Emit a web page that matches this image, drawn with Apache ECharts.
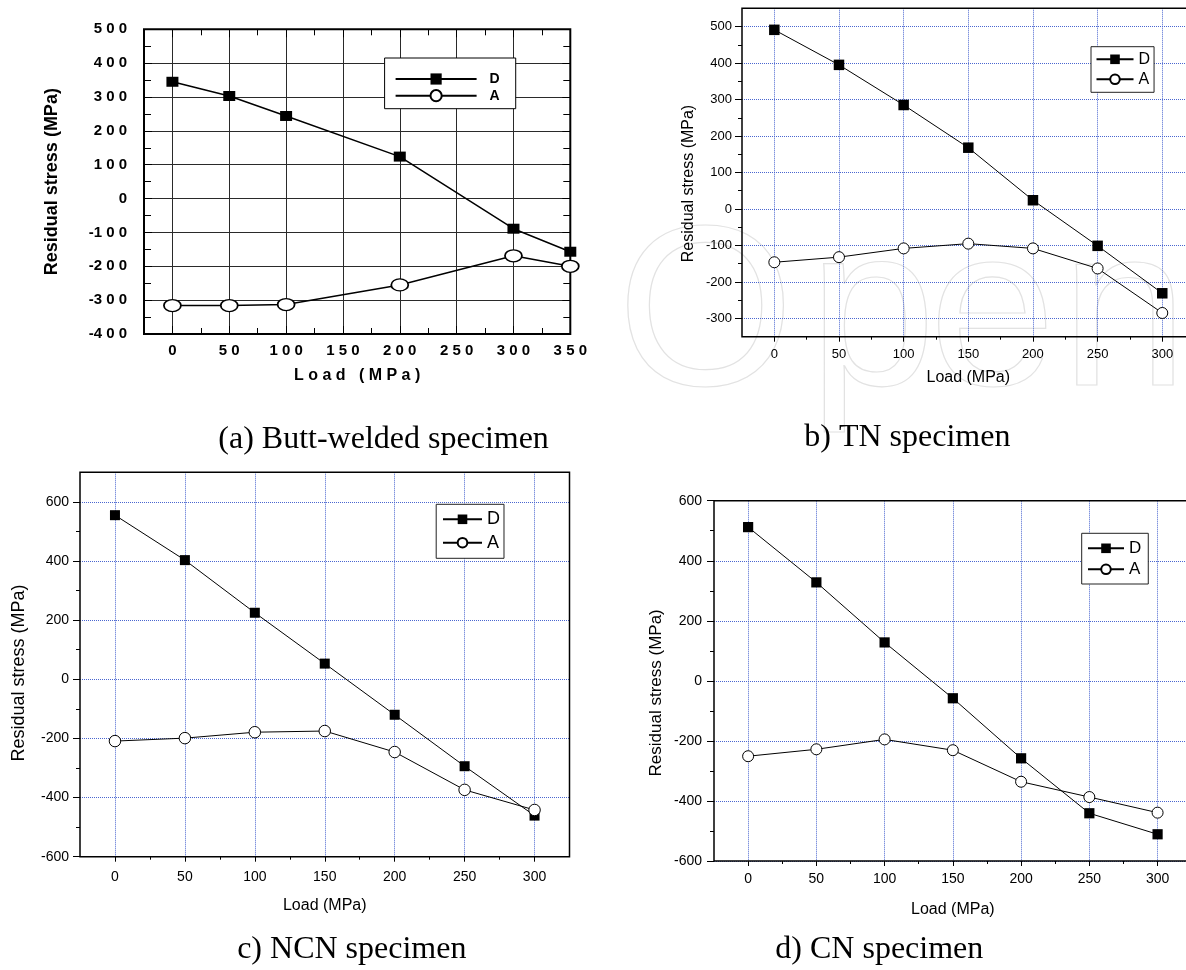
<!DOCTYPE html>
<html>
<head>
<meta charset="utf-8">
<script src="https://cdn.jsdelivr.net/npm/echarts@6/dist/echarts.min.js"></script>
<style>
html,body{margin:0;padding:0;overflow:hidden;background:#fff;width:1186px;height:970px;}
.p{position:absolute;left:0;top:0;width:1210px;height:970px;}
</style>
</head>
<body>
<div id="pa" class="p"></div>
<div id="pb" class="p"></div>
<div id="pc" class="p"></div>
<div id="pd" class="p"></div>
<script>
// ---------- data ----------
const seriesNames = ['D', 'A'];
const axisTitleX = 'Load (MPa)';
const axisTitleY = 'Residual stress (MPa)';
const captions = ['(a) Butt-welded specimen', 'b) TN specimen', 'c) NCN specimen', 'd) CN specimen'];
const watermarkLetters = ['O', 'p', 'e', 'n'];

// (a) Butt-welded specimen
const loadA = [0, 50, 100, 200, 300, 350];
const stressA_D = [345, 303, 244, 124, -89, -157];
const stressA_A = [-316, -316, -313, -255, -169, -200];

// (b)(c)(d) notched specimens share the load steps
const loadBCD = [0, 50, 100, 150, 200, 250, 300];
const stressB_D = [491, 395, 285, 168, 24, -101, -231];
const stressB_A = [-146, -132, -108, -95, -108, -163, -285];
const stressC_D = [555, 403, 225, 53, -120, -294, -461];
const stressC_A = [-209, -199, -179, -175, -246, -374, -442];
const stressD_D = [512, 328, 128, -58, -258, -441, -511];
const stressD_A = [-251, -228, -195, -231, -336, -387, -439];

// tick labels
const ticksAX = [0, 50, 100, 150, 200, 250, 300, 350];
const minorAX = [25, 75, 125, 175, 225, 275, 325];
const ticksX = [0, 50, 100, 150, 200, 250, 300];
const minorX = [25, 75, 125, 175, 225, 275];
const ticksBY = [-300, -200, -100, 0, 100, 200, 300, 400, 500];
const minorBY = [-250, -150, -50, 50, 150, 250, 350, 450];
const ticksCY = [-600, -400, -200, 0, 200, 400, 600];
const minorCY = [-500, -300, -100, 100, 300, 500];

// ---------- helpers ----------
const FF = '"Liberation Sans", Arial, sans-serif';
const SERIF = '"Liberation Serif", "Times New Roman", serif';
const GRID_BLUE = '#4a66d0';

function xy(xs, ys) { return xs.map((x, i) => [x, ys[i]]); }
function spacedNum(v) { return String(v).replace(/(\d)(?=\d)/g, '$1 '); }
function spacedText(s) { return s.split('').join(' '); }

function caption(text, x, y) {
  return {
    type: 'text', x: x, y: y, silent: true,
    style: { text: text, font: '32px ' + SERIF, fill: '#000',
      align: 'center', verticalAlign: 'middle', textAlign: 'center', textVerticalAlign: 'middle' }
  };
}

function watermark() {
  const xs = [617, 809, 929, 1061];
  return watermarkLetters.map((ch, i) => ({
    type: 'text', x: xs[i], y: 322, z: -10, silent: true,
    style: { text: ch, font: '228px ' + FF, fill: 'none', stroke: '#e2e2e2', lineWidth: 1.2,
      align: 'left', verticalAlign: 'middle', textAlign: 'left', textVerticalAlign: 'middle' }
  }));
}

function modernPanel(p) {
  const tickStyle = { color: '#000', width: 1 };
  const dotted = { color: GRID_BLUE, type: [1, 1], width: 1 };
  const xMain = {
    type: 'value', min: -25, max: 325, splitNumber: 7, position: 'bottom',
    name: axisTitleX, nameLocation: 'middle', nameGap: p.xNameGap,
    nameTextStyle: { fontFamily: FF, fontSize: 16, color: '#000' },
    axisLine: { show: false, onZero: false },
    axisTick: { show: true, inside: false, length: 5, customValues: ticksX, lineStyle: tickStyle },
    axisLabel: { show: true, customValues: ticksX, margin: p.xLabelMargin, fontFamily: FF, fontSize: p.labelSize, color: '#000' },
    splitLine: { show: true, lineStyle: dotted }
  };
  const xMinor = {
    type: 'value', min: -25, max: 325, splitNumber: 7, position: 'bottom',
    axisLine: { show: false, onZero: false },
    axisTick: { show: true, inside: false, length: 3, customValues: minorX, lineStyle: tickStyle },
    axisLabel: { show: false }, splitLine: { show: false }
  };
  const yMain = {
    type: 'value', min: p.yMin, max: p.yMax, splitNumber: p.ySplit, position: 'left',
    name: axisTitleY, nameLocation: 'middle', nameGap: p.yNameGap,
    nameTextStyle: { fontFamily: FF, fontSize: p.yNameSize, color: '#000', padding: [0, p.yNameShift * 2, 0, 0] },
    axisLine: { show: false, onZero: false },
    axisTick: { show: true, inside: false, length: 7, customValues: p.yTicks, lineStyle: tickStyle },
    axisLabel: { show: true, customValues: p.yTicks, margin: p.yLabelMargin, fontFamily: FF, fontSize: p.labelSize, color: '#000' },
    splitLine: { show: true, lineStyle: dotted }
  };
  const yMinor = {
    type: 'value', min: p.yMin, max: p.yMax, splitNumber: p.ySplit, position: 'left',
    axisLine: { show: false, onZero: false },
    axisTick: { show: true, inside: false, length: 4, customValues: p.yMinor, lineStyle: tickStyle },
    axisLabel: { show: false }, splitLine: { show: false }
  };
  return {
    animation: false,
    grid: { left: p.left, top: p.top, width: p.width, height: p.height, show: true, z: 1,
      borderColor: '#000', borderWidth: 1.5, backgroundColor: 'transparent',
      containLabel: false, outerBoundsMode: 'none' },
    xAxis: [xMain, xMinor],
    yAxis: [yMain, yMinor],
    legend: Object.assign({
      data: seriesNames, orient: 'vertical', selectedMode: false,
      borderColor: '#222', borderWidth: 1, backgroundColor: '#fff',
      textStyle: { fontFamily: FF, fontSize: p.legendFont, color: '#000' }
    }, p.legend),
    series: [
      { name: seriesNames[0], type: 'line', xAxisIndex: 0, yAxisIndex: 0,
        data: xy(loadBCD, p.d), symbol: 'rect', symbolSize: p.sq, showAllSymbol: true,
        itemStyle: { color: '#000' }, lineStyle: { color: '#000', width: 1 },
        emphasis: { disabled: true }, z: 3 },
      { name: seriesNames[1], type: 'line', xAxisIndex: 0, yAxisIndex: 0,
        data: xy(loadBCD, p.a), symbol: 'circle', symbolSize: p.ci, showAllSymbol: true,
        itemStyle: { color: '#fff', borderColor: '#000', borderWidth: 1 },
        lineStyle: { color: '#000', width: 1 },
        emphasis: { disabled: true }, z: 4 }
    ],
    graphic: [caption(p.caption, p.capX, p.capY)]
  };
}

function panelA() {
  const fontA = { fontFamily: FF, fontWeight: 'bold', color: '#000' };
  const gridLine = { color: '#2a2a2a', width: 1, type: 'solid' };
  const tick = { color: '#000', width: 1 };
  const xBase = { type: 'value', min: -25, max: 350, splitNumber: 8 };
  const xAxes = [
    Object.assign({}, xBase, {
      position: 'bottom', name: spacedText(axisTitleX), nameLocation: 'middle', nameGap: 34,
      nameTextStyle: Object.assign({ fontSize: 16 }, fontA),
      axisLine: { show: false, onZero: false },
      axisTick: { show: true, inside: true, length: 8, customValues: ticksAX, lineStyle: tick },
      axisLabel: Object.assign({ show: true, customValues: ticksAX, margin: 9, fontSize: 15, formatter: spacedNum }, fontA),
      splitLine: { show: true, lineStyle: gridLine }
    }),
    Object.assign({}, xBase, {
      position: 'bottom', axisLine: { show: false, onZero: false },
      axisTick: { show: true, inside: true, length: 6, customValues: minorAX, lineStyle: tick },
      axisLabel: { show: false }, splitLine: { show: false }
    }),
    Object.assign({}, xBase, {
      position: 'top', axisLine: { show: false, onZero: false },
      axisTick: { show: true, inside: true, length: 8, customValues: ticksAX, lineStyle: tick },
      axisLabel: { show: false }, splitLine: { show: false }
    }),
    Object.assign({}, xBase, {
      position: 'top', axisLine: { show: false, onZero: false },
      axisTick: { show: true, inside: true, length: 6, customValues: minorAX, lineStyle: tick },
      axisLabel: { show: false }, splitLine: { show: false }
    })
  ];
  const yBase = { type: 'value', min: -400, max: 500, interval: 100 };
  const yAxes = [
    Object.assign({}, yBase, {
      position: 'left', name: axisTitleY, nameLocation: 'middle', nameGap: 83,
      nameTextStyle: Object.assign({ fontSize: 18 }, fontA),
      axisLine: { show: false, onZero: false },
      axisTick: { show: true, inside: true, length: 8, lineStyle: tick },
      minorTick: { show: true, splitNumber: 2, length: 7, lineStyle: tick },
      axisLabel: Object.assign({ show: true, margin: 17, fontSize: 15, formatter: spacedNum }, fontA),
      splitLine: { show: true, lineStyle: gridLine }
    }),
    Object.assign({}, yBase, {
      position: 'right', axisLine: { show: false, onZero: false },
      axisTick: { show: true, inside: true, length: 8, lineStyle: tick },
      minorTick: { show: true, splitNumber: 2, length: 7, lineStyle: tick },
      axisLabel: { show: false }, splitLine: { show: false }
    })
  ];
  return {
    animation: false,
    grid: { left: 144, top: 29.3, width: 426.3, height: 304.7, show: true, z: 1,
      borderColor: '#000', borderWidth: 2, containLabel: false, outerBoundsMode: 'none' },
    xAxis: xAxes,
    yAxis: yAxes,
    legend: {
      data: seriesNames, orient: 'vertical', selectedMode: false,
      left: 384.6, top: 58, itemWidth: 81, itemHeight: 14, itemGap: 2.7,
      padding: [14, 16, 6, 10], borderColor: '#000', borderWidth: 1, backgroundColor: '#fff',
      textStyle: Object.assign({ fontSize: 14, padding: [0, 0, 0, 8] }, fontA)
    },
    series: [
      { name: seriesNames[0], type: 'line', xAxisIndex: 0, yAxisIndex: 0,
        data: xy(loadA, stressA_D), symbol: 'rect', symbolSize: [12, 10], showAllSymbol: true,
        itemStyle: { color: '#000' }, lineStyle: { color: '#000', width: 1.5 },
        emphasis: { disabled: true }, z: 3 },
      { name: seriesNames[1], type: 'line', xAxisIndex: 0, yAxisIndex: 0,
        data: xy(loadA, stressA_A), symbol: 'circle', symbolSize: [17, 12], showAllSymbol: true,
        itemStyle: { color: '#fff', borderColor: '#000', borderWidth: 1.5 },
        lineStyle: { color: '#000', width: 1.5 },
        emphasis: { disabled: true }, z: 4 }
    ],
    graphic: watermark().concat([caption(captions[0], 383.6, 439.9)])
  };
}

const optB = modernPanel({
  left: 742, top: 8.3, width: 452.6, height: 328.4,
  yMin: -350, yMax: 550, ySplit: 9, yTicks: ticksBY, yMinor: minorBY,
  labelSize: 13, xLabelMargin: 11, yLabelMargin: 10,
  xNameGap: 33, yNameGap: 45, yNameSize: 16, yNameShift: 11,
  legend: { left: 1091, top: 46.7, itemWidth: 37, itemHeight: 12, itemGap: 4, padding: [4.6, 4, 5, 4.5] },
  legendFont: 16, sq: 10.5, ci: 11,
  d: stressB_D, a: stressB_A,
  caption: captions[1], capX: 907.3, capY: 437.5
});
const optC = modernPanel({
  left: 80, top: 472.3, width: 489.5, height: 384.4,
  yMin: -600, yMax: 700, ySplit: 7, yTicks: ticksCY, yMinor: minorCY,
  labelSize: 14, xLabelMargin: 13, yLabelMargin: 11,
  xNameGap: 41, yNameGap: 51.5, yNameSize: 18, yNameShift: 8.5,
  legend: { left: 436.2, top: 504.3, itemWidth: 39, itemHeight: 12, itemGap: 5.4, padding: [6, 4, 6.6, 5.8] },
  legendFont: 18, sq: 10, ci: 11.5,
  d: stressC_D, a: stressC_A,
  caption: captions[2], capX: 351.8, capY: 950
});
const optD = modernPanel({
  left: 714, top: 500.7, width: 477.7, height: 360.3,
  yMin: -600, yMax: 600, ySplit: 6, yTicks: ticksCY, yMinor: minorCY,
  labelSize: 14, xLabelMargin: 11, yLabelMargin: 12,
  xNameGap: 41, yNameGap: 49.5, yNameSize: 17, yNameShift: 12,
  legend: { left: 1081.7, top: 533.3, itemWidth: 36, itemHeight: 12, itemGap: 4, padding: [6.5, 7, 6.2, 5.3] },
  legendFont: 17, sq: 10.2, ci: 11,
  d: stressD_D, a: stressD_A,
  caption: captions[3], capX: 879.3, capY: 950
});

echarts.init(document.getElementById('pa'), null, { renderer: 'canvas' }).setOption(panelA());
echarts.init(document.getElementById('pb'), null, { renderer: 'canvas' }).setOption(optB);
echarts.init(document.getElementById('pc'), null, { renderer: 'canvas' }).setOption(optC);
echarts.init(document.getElementById('pd'), null, { renderer: 'canvas' }).setOption(optD);
</script>
</body>
</html>
